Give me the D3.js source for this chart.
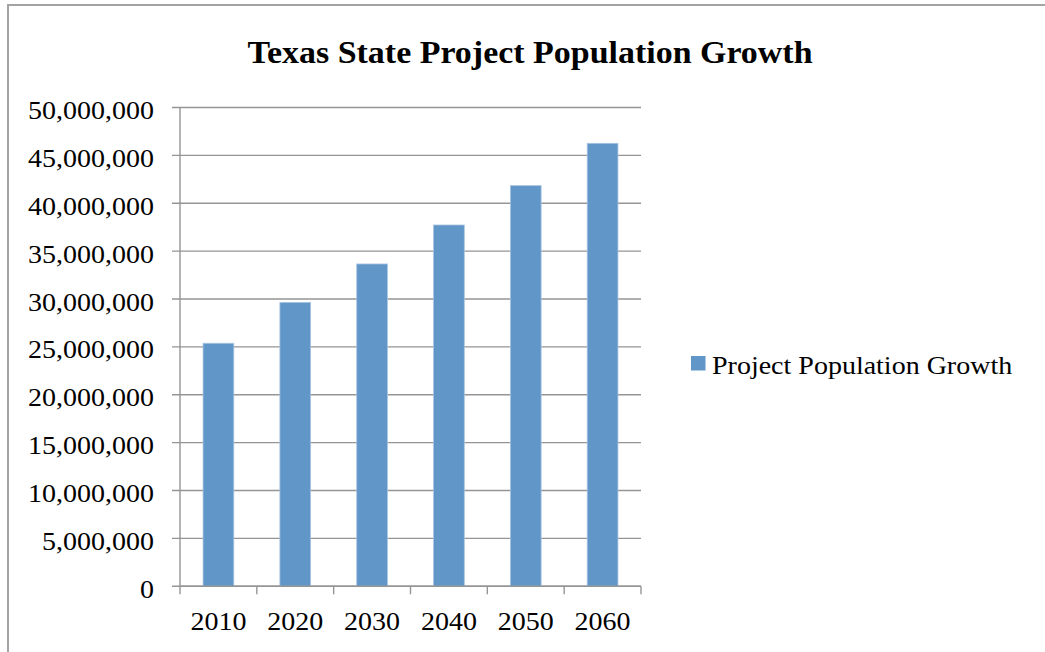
<!DOCTYPE html>
<html>
<head>
<meta charset="utf-8">
<script src="https://cdn.jsdelivr.net/npm/d3@7/dist/d3.min.js"></script>
<style>
  html, body { margin: 0; padding: 0; background: #ffffff; }
  svg { display: block; }
  text { font-family: "Liberation Serif", "DejaVu Serif", serif; fill: #000; }
</style>
</head>
<body>
<svg id="chart" width="1045" height="652"></svg>
<script>
// Projected Texas population by decade
const years = ["2010", "2020", "2030", "2040", "2050", "2060"];
const population = [25380000, 29650000, 33660000, 37730000, 41840000, 46260000];
const yTicks = [0, 5000000, 10000000, 15000000, 20000000, 25000000, 30000000, 35000000, 40000000, 45000000, 50000000];
const titleText = "Texas State Project Population Growth";
const seriesName = "Project Population Growth";

const svg = d3.select("#chart");
const W = 1045, H = 652;
const plot = { left: 180, right: 641, top: 107.5, bottom: 586.3 };

const barColor = "#6096c8";
const gridColor = "#959595";

// Widen serif glyphs slightly so the text takes a Cambria-like width
function widen(sel, factor) {
  sel.each(function () {
    const len = this.getComputedTextLength();
    d3.select(this)
      .attr("textLength", len * factor)
      .attr("lengthAdjust", "spacingAndGlyphs");
  });
}

// Outer chart frame (only top and left edges fall inside the view)
svg.append("rect")
  .attr("x", 8).attr("y", 5)
  .attr("width", W + 20).attr("height", H + 20)
  .attr("fill", "#ffffff")
  .attr("stroke", "#a3a3a3")
  .attr("stroke-width", 2);

const x = d3.scaleBand()
  .domain(years)
  .range([plot.left, plot.right])
  .paddingInner(0.6)
  .paddingOuter(0.3);

const y = d3.scaleLinear()
  .domain([0, 50000000])
  .range([plot.bottom, plot.top]);

// Title
svg.append("text")
  .attr("x", 530).attr("y", 63)
  .attr("text-anchor", "middle")
  .attr("font-weight", "bold")
  .attr("font-size", 31)
  .text(titleText)
  .call(widen, 1.095);

// Horizontal gridlines and y tick marks
svg.append("g")
  .selectAll("line")
  .data(yTicks)
  .join("line")
  .attr("x1", plot.left - 8)
  .attr("x2", plot.right)
  .attr("y1", d => y(d))
  .attr("y2", d => y(d))
  .attr("stroke", gridColor)
  .attr("stroke-width", 1.4);

// Y axis labels
const fmt = d3.format(",");
svg.append("g")
  .selectAll("text")
  .data(yTicks)
  .join("text")
  .attr("x", 154)
  .attr("y", d => y(d) + 11.5)
  .attr("text-anchor", "end")
  .attr("font-size", 25)
  .text(d => fmt(d))
  .call(widen, 1.12);

// Bars
svg.append("g")
  .selectAll("rect")
  .data(years.map((yr, i) => ({ yr, v: population[i] })))
  .join("rect")
  .attr("x", d => x(d.yr))
  .attr("y", d => y(d.v))
  .attr("width", x.bandwidth())
  .attr("height", d => y(0) - y(d.v))
  .attr("fill", barColor)
  .attr("stroke", "#a9c4e2")
  .attr("stroke-width", 0.8);

// Y axis line
svg.append("line")
  .attr("x1", plot.left).attr("x2", plot.left)
  .attr("y1", plot.top).attr("y2", plot.bottom)
  .attr("stroke", gridColor).attr("stroke-width", 1.4);

// X axis line and category boundary ticks
svg.append("line")
  .attr("x1", plot.left).attr("x2", plot.right)
  .attr("y1", plot.bottom).attr("y2", plot.bottom)
  .attr("stroke", gridColor).attr("stroke-width", 1.4);

const step = x.step();
const boundaries = d3.range(years.length + 1).map(i => plot.left + i * step);
svg.append("g")
  .selectAll("line")
  .data(boundaries)
  .join("line")
  .attr("x1", d => d).attr("x2", d => d)
  .attr("y1", plot.bottom).attr("y2", plot.bottom + 8)
  .attr("stroke", gridColor).attr("stroke-width", 1.4);

// X axis labels
svg.append("g")
  .selectAll("text")
  .data(years)
  .join("text")
  .attr("x", d => x(d) + x.bandwidth() / 2)
  .attr("y", 630)
  .attr("text-anchor", "middle")
  .attr("font-size", 25)
  .text(d => d)
  .call(widen, 1.12);

// Legend
const legend = svg.append("g");
legend.append("rect")
  .attr("x", 691).attr("y", 356)
  .attr("width", 14.5).attr("height", 14.5)
  .attr("fill", barColor);
legend.append("text")
  .attr("x", 712).attr("y", 374)
  .attr("font-size", 25)
  .text(seriesName)
  .call(widen, 1.12);
</script>
</body>
</html>
